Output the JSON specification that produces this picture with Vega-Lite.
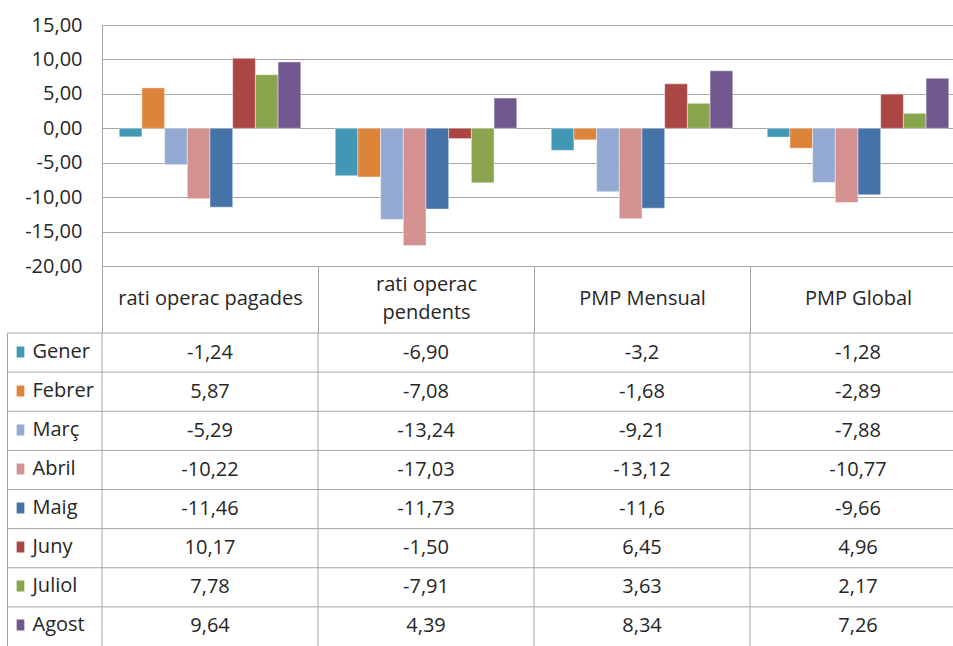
{
  "$schema": "https://vega.github.io/schema/vega-lite/v6.json",
  "padding": {"left": 6, "top": 15, "right": 0, "bottom": 0},
  "config": {
    "font": "Open Sans",
    "locale": {"number": {"decimal": ",", "thousands": ".", "grouping": [3], "currency": ["", " €"], "minus": "-"}},
    "view": {"stroke": null},
    "axis": {"labelFont": "Open Sans", "labelFontSize": 20, "labelColor": "#333333", "domainColor": "#a6a6a6", "gridColor": "#a6a6a6", "tickColor": "#a6a6a6", "title": null},
    "legend": {"labelFont": "Open Sans"}
  },
  "datasets": {
    "vals": [
      {"cat": "rati operac pagades", "month": "Gener", "value": -1.24, "label": "-1,24"},
      {"cat": "rati operac pagades", "month": "Febrer", "value": 5.87, "label": "5,87"},
      {"cat": "rati operac pagades", "month": "Març", "value": -5.29, "label": "-5,29"},
      {"cat": "rati operac pagades", "month": "Abril", "value": -10.22, "label": "-10,22"},
      {"cat": "rati operac pagades", "month": "Maig", "value": -11.46, "label": "-11,46"},
      {"cat": "rati operac pagades", "month": "Juny", "value": 10.17, "label": "10,17"},
      {"cat": "rati operac pagades", "month": "Juliol", "value": 7.78, "label": "7,78"},
      {"cat": "rati operac pagades", "month": "Agost", "value": 9.64, "label": "9,64"},
      {"cat": "rati operac pendents", "month": "Gener", "value": -6.90, "label": "-6,90"},
      {"cat": "rati operac pendents", "month": "Febrer", "value": -7.08, "label": "-7,08"},
      {"cat": "rati operac pendents", "month": "Març", "value": -13.24, "label": "-13,24"},
      {"cat": "rati operac pendents", "month": "Abril", "value": -17.03, "label": "-17,03"},
      {"cat": "rati operac pendents", "month": "Maig", "value": -11.73, "label": "-11,73"},
      {"cat": "rati operac pendents", "month": "Juny", "value": -1.50, "label": "-1,50"},
      {"cat": "rati operac pendents", "month": "Juliol", "value": -7.91, "label": "-7,91"},
      {"cat": "rati operac pendents", "month": "Agost", "value": 4.39, "label": "4,39"},
      {"cat": "PMP Mensual", "month": "Gener", "value": -3.2, "label": "-3,2"},
      {"cat": "PMP Mensual", "month": "Febrer", "value": -1.68, "label": "-1,68"},
      {"cat": "PMP Mensual", "month": "Març", "value": -9.21, "label": "-9,21"},
      {"cat": "PMP Mensual", "month": "Abril", "value": -13.12, "label": "-13,12"},
      {"cat": "PMP Mensual", "month": "Maig", "value": -11.6, "label": "-11,6"},
      {"cat": "PMP Mensual", "month": "Juny", "value": 6.45, "label": "6,45"},
      {"cat": "PMP Mensual", "month": "Juliol", "value": 3.63, "label": "3,63"},
      {"cat": "PMP Mensual", "month": "Agost", "value": 8.34, "label": "8,34"},
      {"cat": "PMP Global", "month": "Gener", "value": -1.28, "label": "-1,28"},
      {"cat": "PMP Global", "month": "Febrer", "value": -2.89, "label": "-2,89"},
      {"cat": "PMP Global", "month": "Març", "value": -7.88, "label": "-7,88"},
      {"cat": "PMP Global", "month": "Abril", "value": -10.77, "label": "-10,77"},
      {"cat": "PMP Global", "month": "Maig", "value": -9.66, "label": "-9,66"},
      {"cat": "PMP Global", "month": "Juny", "value": 4.96, "label": "4,96"},
      {"cat": "PMP Global", "month": "Juliol", "value": 2.17, "label": "2,17"},
      {"cat": "PMP Global", "month": "Agost", "value": 7.26, "label": "7,26"}
    ],
    "months": [
      {"month": "Gener"}, {"month": "Febrer"}, {"month": "Març"}, {"month": "Abril"},
      {"month": "Maig"}, {"month": "Juny"}, {"month": "Juliol"}, {"month": "Agost"}
    ],
    "cats": [
      {"cat": "rati operac pagades"}, {"cat": "rati operac pendents"}, {"cat": "PMP Mensual"}, {"cat": "PMP Global"}
    ]
  },
  "columns": 2,
  "bounds": "flush",
  "spacing": {"row": 67, "column": 0},
  "concat": [
    {
      "width": 95,
      "height": 241,
      "data": {"values": []},
      "mark": "point",
      "encoding": {}
    },
    {
      "width": 864,
      "height": 241,
      "data": {"name": "vals"},
      "mark": {"type": "bar", "stroke": "#ffffff", "strokeOpacity": 0.6, "strokeWidth": 0.7},
      "encoding": {
        "x": {
          "field": "cat", "type": "nominal",
          "scale": {"domain": ["rati operac pagades", "rati operac pendents", "PMP Mensual", "PMP Global"], "paddingInner": 0, "paddingOuter": 0},
          "axis": {
            "orient": "bottom", "tickBand": "extent", "ticks": true, "tickSize": 67, "tickColor": "#a6a6a6",
            "labelAngle": 0,
            "labelPadding": {"condition": {"test": "datum.value == 'rati operac pendents'", "value": -49}, "value": -35},
            "labelBaseline": "middle", "labelLimit": 0, "labelLineHeight": 28,
            "labelColor": "#262626",
            "labelExpr": "datum.value == 'rati operac pendents' ? ['rati operac', 'pendents'] : datum.label",
            "domain": true
          }
        },
        "xOffset": {
          "field": "month", "type": "nominal",
          "scale": {"domain": ["Gener", "Febrer", "Març", "Abril", "Maig", "Juny", "Juliol", "Agost"], "paddingInner": 0, "paddingOuter": 0.76}
        },
        "y": {
          "field": "value", "type": "quantitative",
          "scale": {"domain": [-20, 15], "nice": false},
          "axis": {"values": [-20, -15, -10, -5, 0, 5, 10, 15], "format": ".2f", "ticks": false, "labelPadding": 20, "domain": true, "grid": true, "labelColor": "#262626"}
        },
        "color": {
          "field": "month", "type": "nominal",
          "scale": {"domain": ["Gener", "Febrer", "Març", "Abril", "Maig", "Juny", "Juliol", "Agost"], "range": ["#4198b5", "#dd843b", "#95aad3", "#d39190", "#4572a7", "#aa4644", "#89a54e", "#71588f"]},
          "legend": {
            "orient": "none", "legendX": 3.5, "legendY": 317, "direction": "vertical", "title": null,
            "symbolType": "M-0.7,-1L0.7,-1L0.7,1L-0.7,1Z", "symbolSize": 121, "symbolStrokeWidth": 0, "symbolOpacity": 1,
            "labelFontSize": 20, "labelColor": "#262626", "labelOffset": 2, "rowPadding": 19, "padding": 0, "offset": 0
          }
        }
      }
    },
    {
      "width": 95,
      "height": 313,
      "data": {"name": "months"},
      "mark": {"type": "rule", "color": "#a6a6a6", "strokeWidth": 1},
      "encoding": {
        "y": {
          "field": "month", "type": "nominal", "bandPosition": 0,
          "scale": {"domain": ["Gener", "Febrer", "Març", "Abril", "Maig", "Juny", "Juliol", "Agost"], "paddingInner": 0, "paddingOuter": 0},
          "axis": {"domain": true, "labels": false, "ticks": false, "grid": false}
        }
      }
    },
    {
      "width": 864,
      "height": 313,
      "layer": [
        {
          "data": {"name": "cats"},
          "mark": {"type": "rule", "color": "#a6a6a6", "strokeWidth": 1},
          "encoding": {
            "x": {
              "field": "cat", "type": "nominal", "bandPosition": 0,
              "scale": {"domain": ["rati operac pagades", "rati operac pendents", "PMP Mensual", "PMP Global"], "paddingInner": 0, "paddingOuter": 0},
              "axis": null
            }
          }
        },
        {
          "data": {"name": "months"},
          "mark": {"type": "rule", "color": "#a6a6a6", "strokeWidth": 1},
          "encoding": {
            "y": {
              "field": "month", "type": "nominal", "bandPosition": 0,
              "scale": {"domain": ["Gener", "Febrer", "Març", "Abril", "Maig", "Juny", "Juliol", "Agost"], "paddingInner": 0, "paddingOuter": 0},
              "axis": null
            }
          }
        },
        {
          "data": {"name": "vals"},
          "mark": {"type": "text", "fontSize": 20, "font": "Open Sans", "color": "#262626"},
          "encoding": {
            "x": {"field": "cat", "type": "nominal", "axis": null},
            "y": {"field": "month", "type": "nominal", "axis": null},
            "text": {"field": "label"}
          }
        }
      ]
    }
  ]
}
